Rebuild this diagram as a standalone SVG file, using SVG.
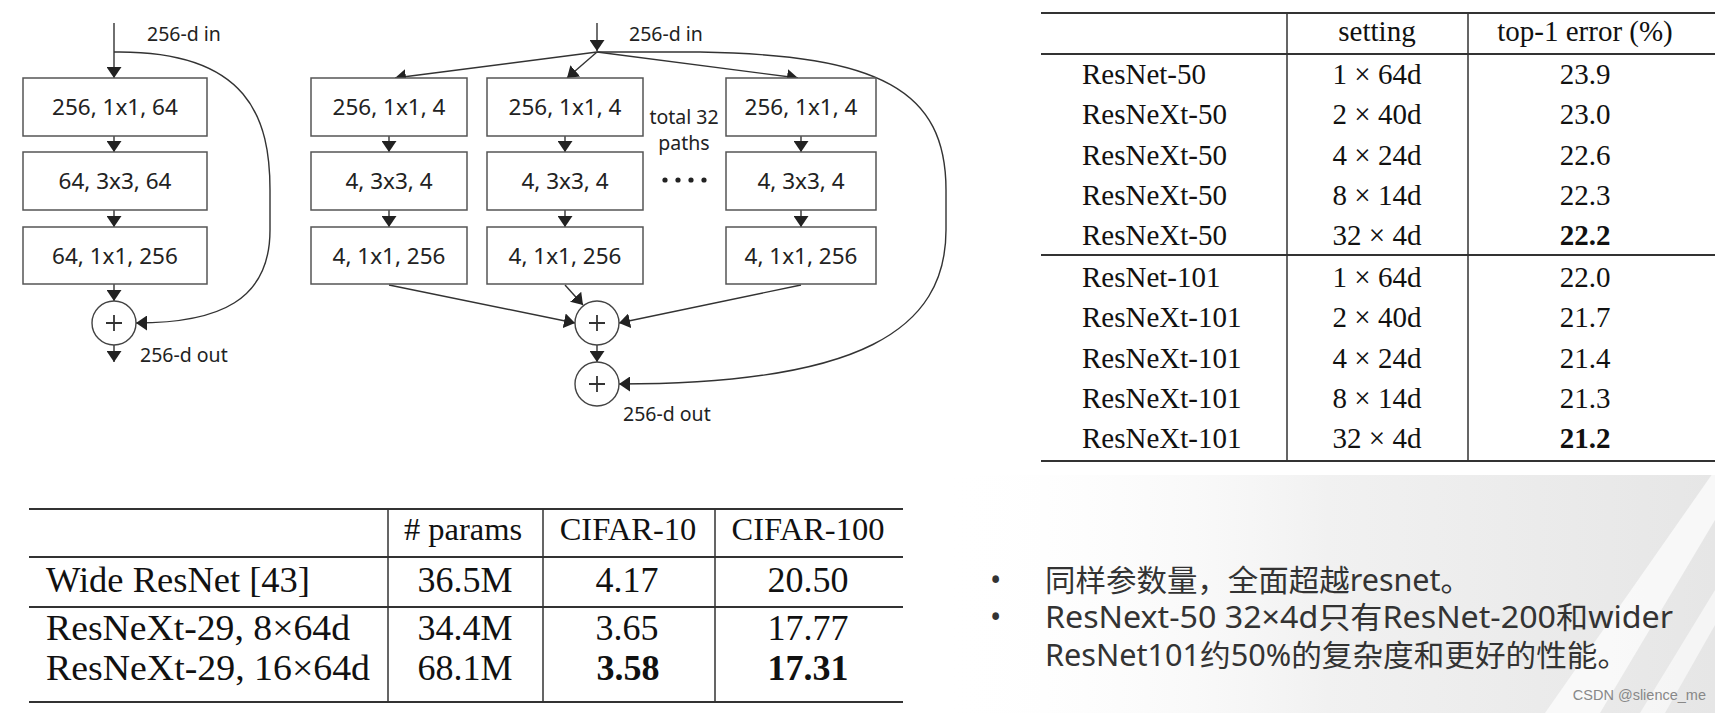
<svg xmlns="http://www.w3.org/2000/svg" width="1715" height="713" viewBox="0 0 1715 713">
<style>
  .box{fill:#fff;stroke:#555;stroke-width:1.5}
  .bt{font-family:"Noto Sans","Open Sans",sans-serif;font-size:22.5px;fill:#222;text-anchor:middle}
  .lbl{font-family:"Noto Sans","Open Sans",sans-serif;font-size:19.5px;fill:#222}
  .con{fill:none;stroke:#333;stroke-width:1.4}
  .circ{fill:#fff;stroke:#444;stroke-width:1.4}
  .plus{stroke:#333;stroke-width:1.8}
  .rule{stroke:#333;stroke-width:2}
  .vr{stroke:#333;stroke-width:1.5}
  .tt{font-family:"Liberation Serif","Times New Roman",serif;font-size:29px;fill:#111}
  .tc{text-anchor:middle}
  .bh{font-family:"Liberation Serif","Times New Roman",serif;font-size:32.5px;fill:#111}
  .bb{font-family:"Liberation Serif","Times New Roman",serif;font-size:36px;fill:#111}
  .b{font-weight:bold}
  .note{font-family:"Noto Sans","Noto Sans CJK SC",sans-serif;font-size:30px;fill:#333}
</style>
<defs>
  <marker id="ah" viewBox="0 0 10 10" refX="10" refY="5" markerWidth="11" markerHeight="15" markerUnits="userSpaceOnUse" orient="auto" preserveAspectRatio="none">
    <path d="M0,0 L10,5 L0,10 z" fill="#222"/>
  </marker>
  <linearGradient id="bg" x1="0" y1="0" x2="1" y2="0">
    <stop offset="0" stop-color="#ffffff" stop-opacity="0"/>
    <stop offset="0.5" stop-color="#f1f1f1"/>
    <stop offset="1" stop-color="#e6e6e6"/>
  </linearGradient>
</defs>
<rect width="1715" height="713" fill="#fff"/>
<g id="background">
  <rect x="940" y="475" width="775" height="238" fill="url(#bg)"/>
  <polygon points="1545,713 1600,713 1715,520 1715,470" fill="#fff" opacity="0.7"/>
  <polygon points="1640,713 1665,713 1715,625 1715,590" fill="#fff" opacity="0.6"/>
</g>

<g id="connectors">
  <!-- ResNet block -->
  <path class="con" d="M114,23 V78" marker-end="url(#ah)"/>
  <path class="con" d="M114,136 V152" marker-end="url(#ah)"/>
  <path class="con" d="M114,210 V227" marker-end="url(#ah)"/>
  <path class="con" d="M114,284 V301" marker-end="url(#ah)"/>
  <path class="con" d="M114,345 V362" marker-end="url(#ah)"/>
  <path class="con" d="M114,52 C250,50 270,120 270,190 L270,230 C270,300 220,323 136,323" marker-end="url(#ah)"/>
  <!-- ResNeXt block -->
  <path class="con" d="M597,23 V51" marker-end="url(#ah)"/>
  <path class="con" d="M597,52 L395,78" marker-end="url(#ah)"/>
  <path class="con" d="M597,52 L567,78" marker-end="url(#ah)"/>
  <path class="con" d="M597,52 L798,78" marker-end="url(#ah)"/>
  <path class="con" d="M389,136 V152" marker-end="url(#ah)"/>
  <path class="con" d="M389,210 V227" marker-end="url(#ah)"/>
  <path class="con" d="M565,136 V152" marker-end="url(#ah)"/>
  <path class="con" d="M565,210 V227" marker-end="url(#ah)"/>
  <path class="con" d="M801,136 V152" marker-end="url(#ah)"/>
  <path class="con" d="M801,210 V227" marker-end="url(#ah)"/>
  <path class="con" d="M389,285 L575,323" marker-end="url(#ah)"/>
  <path class="con" d="M565,285 L583,305" marker-end="url(#ah)"/>
  <path class="con" d="M801,285 L619,323" marker-end="url(#ah)"/>
  <path class="con" d="M597,345 V362" marker-end="url(#ah)"/>
  <path class="con" d="M597,52 L700,52 C880,55 946,90 946,190 L946,230 C946,330 860,384 619,384" marker-end="url(#ah)"/>
</g>

<g id="resnet-block">
  <text class="lbl" x="147" y="41">256-d in</text>
  <g id="r-box1"><rect class="box" x="23" y="78" width="184" height="58"/><text class="bt" x="115" y="115">256, 1x1, 64</text></g>
  <g id="r-box2"><rect class="box" x="23" y="152" width="184" height="58"/><text class="bt" x="115" y="189">64, 3x3, 64</text></g>
  <g id="r-box3"><rect class="box" x="23" y="227" width="184" height="57"/><text class="bt" x="115" y="264">64, 1x1, 256</text></g>
  <g id="r-sum"><circle class="circ" cx="114" cy="323" r="22"/><path class="plus" d="M106,323 H122 M114,315 V331"/></g>
  <text class="lbl" x="140" y="362">256-d out</text>
</g>

<g id="resnext-block">
  <text class="lbl" x="629" y="41">256-d in</text>
  <g id="a-box1"><rect class="box" x="311" y="78" width="156" height="58"/><text class="bt" x="389" y="115">256, 1x1, 4</text></g>
  <g id="a-box2"><rect class="box" x="311" y="152" width="156" height="58"/><text class="bt" x="389" y="189">4, 3x3, 4</text></g>
  <g id="a-box3"><rect class="box" x="311" y="227" width="156" height="57"/><text class="bt" x="389" y="264">4, 1x1, 256</text></g>
  <g id="b-box1"><rect class="box" x="487" y="78" width="156" height="58"/><text class="bt" x="565" y="115">256, 1x1, 4</text></g>
  <g id="b-box2"><rect class="box" x="487" y="152" width="156" height="58"/><text class="bt" x="565" y="189">4, 3x3, 4</text></g>
  <g id="b-box3"><rect class="box" x="487" y="227" width="156" height="57"/><text class="bt" x="565" y="264">4, 1x1, 256</text></g>
  <g id="c-box1"><rect class="box" x="726" y="78" width="150" height="58"/><text class="bt" x="801" y="115">256, 1x1, 4</text></g>
  <g id="c-box2"><rect class="box" x="726" y="152" width="150" height="58"/><text class="bt" x="801" y="189">4, 3x3, 4</text></g>
  <g id="c-box3"><rect class="box" x="726" y="227" width="150" height="57"/><text class="bt" x="801" y="264">4, 1x1, 256</text></g>
  <g id="paths-label">
    <text class="lbl" x="684" y="124" text-anchor="middle">total 32</text>
    <text class="lbl" x="684" y="150" text-anchor="middle">paths</text>
    <circle cx="665" cy="180" r="2.6" fill="#222"/>
    <circle cx="678" cy="180" r="2.6" fill="#222"/>
    <circle cx="691" cy="180" r="2.6" fill="#222"/>
    <circle cx="704" cy="180" r="2.6" fill="#222"/>
  </g>
  <g id="x-sum1"><circle class="circ" cx="597" cy="323" r="22"/><path class="plus" d="M589,323 H605 M597,315 V331"/></g>
  <g id="x-sum2"><circle class="circ" cx="597" cy="384" r="22"/><path class="plus" d="M589,384 H605 M597,376 V392"/></g>
  <text class="lbl" x="623" y="421">256-d out</text>
</g>

<g id="table-imagenet">
  <path class="rule" d="M1041,13 H1715 M1041,54 H1715 M1041,255 H1715 M1041,461 H1715"/>
  <path class="vr" d="M1287,13 V461 M1468,13 V461"/>
  <text class="tt tc" x="1377" y="41">setting</text>
  <text class="tt tc" x="1585" y="41">top-1 error (%)</text>
  <g class="tt">
    <text x="1082" y="84">ResNet-50</text>
    <text x="1082" y="124">ResNeXt-50</text>
    <text x="1082" y="164.5">ResNeXt-50</text>
    <text x="1082" y="204.5">ResNeXt-50</text>
    <text x="1082" y="245">ResNeXt-50</text>
    <text x="1082" y="287">ResNet-101</text>
    <text x="1082" y="327">ResNeXt-101</text>
    <text x="1082" y="367.5">ResNeXt-101</text>
    <text x="1082" y="407.5">ResNeXt-101</text>
    <text x="1082" y="448">ResNeXt-101</text>
  </g>
  <g class="tt tc">
    <text x="1377" y="84">1 × 64d</text>
    <text x="1377" y="124">2 × 40d</text>
    <text x="1377" y="164.5">4 × 24d</text>
    <text x="1377" y="204.5">8 × 14d</text>
    <text x="1377" y="245">32 × 4d</text>
    <text x="1377" y="287">1 × 64d</text>
    <text x="1377" y="327">2 × 40d</text>
    <text x="1377" y="367.5">4 × 24d</text>
    <text x="1377" y="407.5">8 × 14d</text>
    <text x="1377" y="448">32 × 4d</text>
    <text x="1585" y="84">23.9</text>
    <text x="1585" y="124">23.0</text>
    <text x="1585" y="164.5">22.6</text>
    <text x="1585" y="204.5">22.3</text>
    <text class="b" x="1585" y="245">22.2</text>
    <text x="1585" y="287">22.0</text>
    <text x="1585" y="327">21.7</text>
    <text x="1585" y="367.5">21.4</text>
    <text x="1585" y="407.5">21.3</text>
    <text class="b" x="1585" y="448">21.2</text>
  </g>
</g>

<g id="table-cifar">
  <path class="rule" d="M29,509 H903 M29,557 H903 M29,607 H903 M29,702 H903"/>
  <path class="vr" d="M388,509 V702 M543,509 V702 M715,509 V702"/>
  <g class="bh tc">
    <text x="463" y="540"># params</text>
    <text x="628" y="540">CIFAR-10</text>
    <text x="808" y="540">CIFAR-100</text>
  </g>
  <g class="bb">
    <text x="46" y="592" textLength="264" lengthAdjust="spacingAndGlyphs">Wide ResNet [43]</text>
    <text x="46" y="640" textLength="304" lengthAdjust="spacingAndGlyphs">ResNeXt-29, 8×64d</text>
    <text x="46" y="680" textLength="324" lengthAdjust="spacingAndGlyphs">ResNeXt-29, 16×64d</text>
  </g>
  <g class="bb tc">
    <text x="465" y="592">36.5M</text>
    <text x="465" y="640">34.4M</text>
    <text x="465" y="680">68.1M</text>
    <text x="627" y="592">4.17</text>
    <text x="627" y="640">3.65</text>
    <text class="b" x="628" y="680">3.58</text>
    <text x="808" y="592">20.50</text>
    <text x="808" y="640">17.77</text>
    <text class="b" x="808" y="680">17.31</text>
  </g>
</g>

<g id="notes">
  <text class="note" x="990" y="591">•</text>
  <text class="note" x="1045" y="591" textLength="426" lengthAdjust="spacingAndGlyphs">同样参数量，全面超越resnet。</text>
  <text class="note" x="990" y="628">•</text>
  <text class="note" x="1045" y="628" textLength="628" lengthAdjust="spacingAndGlyphs">ResNext-50 32×4d只有ResNet-200和wider</text>
  <text class="note" x="1045" y="666" textLength="583" lengthAdjust="spacingAndGlyphs">ResNet101约50%的复杂度和更好的性能。</text>
</g>
<text id="watermark" x="1706" y="700" text-anchor="end" font-family="Liberation Sans, Arial, sans-serif" font-size="14.5" fill="#888">CSDN @slience_me</text>
</svg>
